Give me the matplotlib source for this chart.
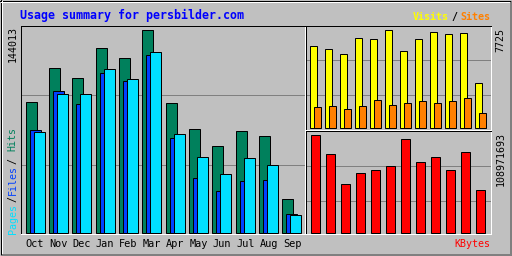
import matplotlib
matplotlib.use("Agg")
import matplotlib.pyplot as plt
import numpy as np

# ---- data ----
months = ["Oct", "Nov", "Dec", "Jan", "Feb", "Mar", "Apr", "May", "Jun", "Jul", "Aug", "Sep"]
hits = [92300, 116400, 109300, 130600, 123500, 144013, 91600, 73200, 61100, 71800, 68200, 23600]
files = [72500, 100300, 91100, 113100, 107400, 125800, 67100, 38500, 29300, 36400, 37100, 13000]
pages = [71100, 98000, 98000, 115700, 108600, 128400, 69600, 53600, 41300, 52600, 47700, 12300]
visits = [6385, 6227, 5833, 7094, 6937, 7725, 5991, 6937, 7489, 7331, 7410, 3547]
sites = [1577, 1734, 1419, 1734, 2207, 1813, 1892, 2128, 1892, 2050, 2286, 1182]
kbytes = [108971693, 87844524, 54485846, 66717360, 70053228, 74501052,
          104523864, 78948876, 84508656, 70053228, 90068436, 47814108]
title = "Usage summary for persbilder.com"

# ---- colours ----
BG = "#C0C0C0"
C_HITS, C_FILES, C_PAGES = "#00805C", "#0040FF", "#00E0FF"
C_VISITS, C_SITES, C_KB = "#FFFF00", "#FF8000", "#FF0000"
GRID = "#808080"
LW = 0.72  # 1 px

W, H = 512, 256
fig = plt.figure(figsize=(W / 100, H / 100), dpi=100, facecolor=BG)

def px_axes(x0, y0, x1, y1, **kw):
    return fig.add_axes([x0 / W, 1 - y1 / H, (x1 - x0) / W, (y1 - y0) / H], **kw)

# background / frame
bg = px_axes(0, 0, W, H)
bg.set_xlim(0, W)
bg.set_ylim(H, 0)
bg.axis("off")
bg.set_zorder(0)
def hline(y, x0, x1, c):
    bg.plot([x0, x1], [y + 0.5, y + 0.5], color=c, lw=LW, solid_capstyle="butt", antialiased=False)
def vline(x, y0, y1, c):
    bg.plot([x + 0.5, x + 0.5], [y0, y1], color=c, lw=LW, solid_capstyle="butt", antialiased=False)
hline(0, 0, W, "black"); vline(0, 0, H, "black")
hline(1, 1, W - 1, "white"); vline(1, 1, H - 1, "white")
hline(254, 1, W - 1, GRID); vline(510, 1, H - 1, GRID)
hline(253, 2, W - 2, GRID); vline(509, 2, H - 2, GRID)
hline(255, 0, W, "black"); vline(511, 0, H, "black")

def style_panel(ax):
    ax.set_facecolor(BG)
    ax.set_xticks([]); ax.set_yticks([])
    for s in ("top", "left"):
        ax.spines[s].set_color("black"); ax.spines[s].set_linewidth(LW)
    for s in ("bottom", "right"):
        ax.spines[s].set_color("white"); ax.spines[s].set_linewidth(LW)
    ax.set_zorder(1)

def grid(ax, fracs):
    for f in fracs:
        ax.plot([0, 1], [f, f], transform=ax.transAxes, color=GRID, lw=LW, zorder=0.5)

idx = np.arange(len(months))

# ---- main panel (hits/files/pages) ----
ax1 = px_axes(20.5, 25.5, 304.5, 233.5)
style_panel(ax1)
ax1.set_xlim(0, 284)
ppu = 203 / max(hits)
ax1.set_ylim(-1 / ppu, 207 / ppu)
grid(ax1, [0.327, 0.6635])
sp = 23.36
x0 = 5.0 + idx * sp
bw = 11
ax1.bar(x0, hits, width=bw, align="edge", color=C_HITS, edgecolor="black", linewidth=LW, zorder=2)
ax1.bar(x0 + 4, files, width=bw, align="edge", color=C_FILES, edgecolor="black", linewidth=LW, zorder=3)
ax1.bar(x0 + 8, pages, width=bw, align="edge", color=C_PAGES, edgecolor="black", linewidth=LW, zorder=4)

# ---- visits / sites panel ----
ax2 = px_axes(305.5, 25.5, 490.5, 129.5)
style_panel(ax2)
ax2.set_xlim(0, 185)
ppu2 = 98 / max(visits)
ax2.set_ylim(-2 / ppu2, 102 / ppu2)
grid(ax2, [0.327, 0.6635])
xr = 4.0 + idx * 15
ax2.bar(xr, visits, width=7, align="edge", color=C_VISITS, edgecolor="black", linewidth=LW, zorder=2)
ax2.bar(xr + 4, sites, width=7, align="edge", color=C_SITES, edgecolor="black", linewidth=LW, zorder=3)

# ---- kbytes panel ----
ax3 = px_axes(305.5, 130.5, 490.5, 233.5)
style_panel(ax3)
ax3.set_xlim(0, 185)
ppu3 = 98 / max(kbytes)
ax3.set_ylim(-1 / ppu3, 102 / ppu3)
grid(ax3, [0.320, 0.660])
ax3.bar(5.0 + idx * 15, kbytes, width=9, align="edge", color=C_KB, edgecolor="black", linewidth=LW, zorder=2)

# ---- texts (on background axes, pixel coords) ----
txt = bg.text
mono = "DejaVu Sans Mono"
bg.set_zorder(2)
bg.patch.set_visible(False)
txt(20, 19, title, color="#0000FF", fontsize=8.4, fontweight="bold", family=mono, va="baseline", ha="left")
txt(490, 20, "Sites", color=C_SITES, fontsize=7.2, fontweight="bold", family=mono, va="baseline", ha="right")
txt(454, 20, "/", color="black", fontsize=7.2, fontweight="bold", family=mono, va="baseline", ha="center")
txt(449, 20, "Visits", color=C_VISITS, fontsize=7.2, fontweight="bold", family=mono, va="baseline", ha="right")

txt(13, 26.5, f"{max(hits)}", rotation=90, fontsize=7.2, family=mono, ha="center", va="top", color="black")
txt(500, 27.5, f"{max(visits)}", rotation=90, fontsize=7.2, family=mono, ha="center", va="top", color="black")
txt(500.5, 132.5, f"{max(kbytes)}", rotation=90, fontsize=7.2, family=mono, ha="center", va="top", color="black")

txt(12.8, 218.7, "Pages", rotation=90, fontsize=7.2, family=mono, ha="center", va="center", color=C_PAGES)
txt(12.8, 199.5, "/", rotation=90, fontsize=7.2, family=mono, ha="center", va="center", color="black")
txt(12.8, 180, "Files", rotation=90, fontsize=7.2, family=mono, ha="center", va="center", color=C_FILES)
txt(12.8, 160.5, "/", rotation=90, fontsize=7.2, family=mono, ha="center", va="center", color="black")
txt(12.8, 139, "Hits", rotation=90, fontsize=7.2, family=mono, ha="center", va="center", color=C_HITS)

for i, m in enumerate(months):
    txt(20.5 + x0[i] + 9.5, 247, m, fontsize=7.4, family=mono, ha="center", va="baseline", color="black")
txt(490, 247, "KBytes", color=C_KB, fontsize=7.2, family=mono, ha="right", va="baseline")

fig.savefig("out.png", dpi=100, facecolor=BG)
